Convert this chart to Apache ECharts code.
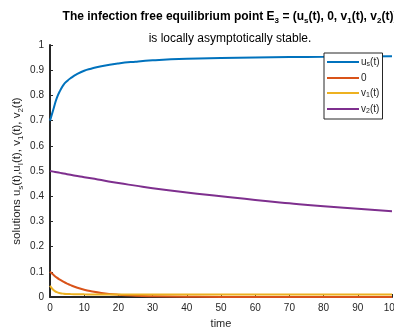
<!DOCTYPE html>
<html>
<head>
<meta charset="utf-8">
<script src="https://cdn.jsdelivr.net/npm/echarts@6/dist/echarts.min.js"></script>
<style>
	html, body { margin: 0; padding: 0; background: #fff; }
	#chart { width: 394px; height: 329px; }
</style>
</head>
<body>
<div id="chart"></div>
<script>
// time points and solution values
const time = [0, 1, 2, 3, 4, 5, 6, 8, 10, 12, 15, 20, 25, 30, 40, 50, 60, 70, 80, 90, 100];
const us = [0.70, 0.745, 0.79, 0.82, 0.843, 0.857, 0.868, 0.885, 0.898, 0.906, 0.916, 0.927, 0.934, 0.939, 0.945, 0.948, 0.950, 0.952, 0.953, 0.954, 0.955];
const uI = [0.10, 0.088, 0.077, 0.068, 0.06, 0.053, 0.047, 0.037, 0.029, 0.023, 0.016, 0.009, 0.005, 0.003, 0.001, 0, 0, 0, 0, 0, 0];
const v1 = [0.045, 0.028, 0.019, 0.015, 0.013, 0.012, 0.0115, 0.011, 0.0105, 0.0102, 0.01, 0.01, 0.01, 0.01, 0.01, 0.01, 0.01, 0.01, 0.01, 0.01, 0.01];
const v2 = [0.50, 0.4975, 0.495, 0.4925, 0.49, 0.4875, 0.485, 0.48, 0.475, 0.471, 0.464, 0.452, 0.442, 0.432, 0.415, 0.40, 0.385, 0.372, 0.36, 0.35, 0.34];

const seriesNames = ['us', '0', 'v1', 'v2'];
const seriesData = [us, uI, v1, v2];
const colors = ['#0072BD', '#D95319', '#EDB120', '#7E2F8E'];
const legendLabels = {
	us: '{n|u}{s|s}{n|(t)}',
	'0': '{n|0}',
	v1: '{n|v}{s|1}{n|(t)}',
	v2: '{n|v}{s|2}{n|(t)}'
};

const font = 'Liberation Sans, Arial, sans-serif';
const subRich = {
	n: { fontSize: 10, fontFamily: font, color: '#262626' },
	s: { fontSize: 7, fontFamily: font, color: '#262626', padding: [5, 0, 0, 0] }
};

let myChart = echarts.init(document.getElementById('chart'));
let option = {
	animation: false,
	title: [{
		text: '{b|The infection free equilibrium point E}{bs|3}{b| = (u}{bs|s}{b|(t), 0, v}{bs|1}{b|(t), v}{bs|2}{b|(t))}',
		left: 225,
		top: 4,
		textAlign: 'center',
		textStyle: {
			rich: {
				b: { fontSize: 12, fontWeight: 'bold', fontFamily: font, color: '#000' },
				bs: { fontSize: 8, fontWeight: 'bold', fontFamily: font, color: '#000', padding: [8, 0, 0, 0] }
			}
		}
	}, {
		text: 'is locally asymptotically stable.',
		left: 225,
		top: 28,
		textAlign: 'center',
		textStyle: { fontSize: 12, fontWeight: 'normal', fontFamily: font, color: '#000' }
	}],
	legend: {
		orient: 'vertical',
		left: 324,
		top: 53,
		itemWidth: 32,
		itemHeight: 2,
		itemGap: 5,
		icon: 'rect',
		padding: [4, 3, 4, 3],
		borderColor: '#262626',
		borderWidth: 1,
		backgroundColor: '#fff',
		data: seriesNames,
		formatter: name => legendLabels[name],
		textStyle: { rich: subRich, padding: [0, 0, 0, -3] }
	},
	grid: {
		left: 50,
		right: 2,
		top: 45,
		bottom: 32,
		outerBoundsMode: 'none'
	},
	xAxis: {
		type: 'value',
		min: 0,
		max: 100,
		interval: 10,
		name: 'time',
		nameLocation: 'middle',
		nameGap: 21,
		nameTextStyle: { fontSize: 11, fontFamily: font, color: '#262626' },
		axisLine: { lineStyle: { color: '#262626', width: 2 } },
		axisTick: { inside: true, length: 3, lineStyle: { color: '#262626' } },
		axisLabel: { fontSize: 10, fontFamily: font, color: '#262626', margin: 6 },
		splitLine: { show: false }
	},
	yAxis: {
		type: 'value',
		min: 0,
		max: 1,
		interval: 0.1,
		name: '{n|solutions u}{s|s}{n|(t),u}{s|I}{n|(t), v}{s|1}{n|(t), v}{s|2}{n|(t)}',
		nameLocation: 'middle',
		nameGap: 25,
		nameMoveOverlap: false,
		nameTextStyle: {
			rich: {
				n: { fontSize: 11.5, fontFamily: font, color: '#262626' },
				s: { fontSize: 8, fontFamily: font, color: '#262626', padding: [8, 0, 0, 0] }
			}
		},
		axisLine: { lineStyle: { color: '#262626', width: 2 } },
		axisTick: { inside: true, length: 3, lineStyle: { color: '#262626' } },
		axisLabel: { fontSize: 10, fontFamily: font, color: '#262626', margin: 6 },
		splitLine: { show: false }
	},
	series: seriesNames.map((name, i) => ({
		name: name,
		type: 'line',
		smooth: true,
		showSymbol: false,
		symbol: 'none',
		color: colors[i],
		lineStyle: { width: 2, color: colors[i] },
		data: time.map((t, k) => [t, seriesData[i][k]])
	}))
};

myChart.setOption(option);
</script>
</body>
</html>
